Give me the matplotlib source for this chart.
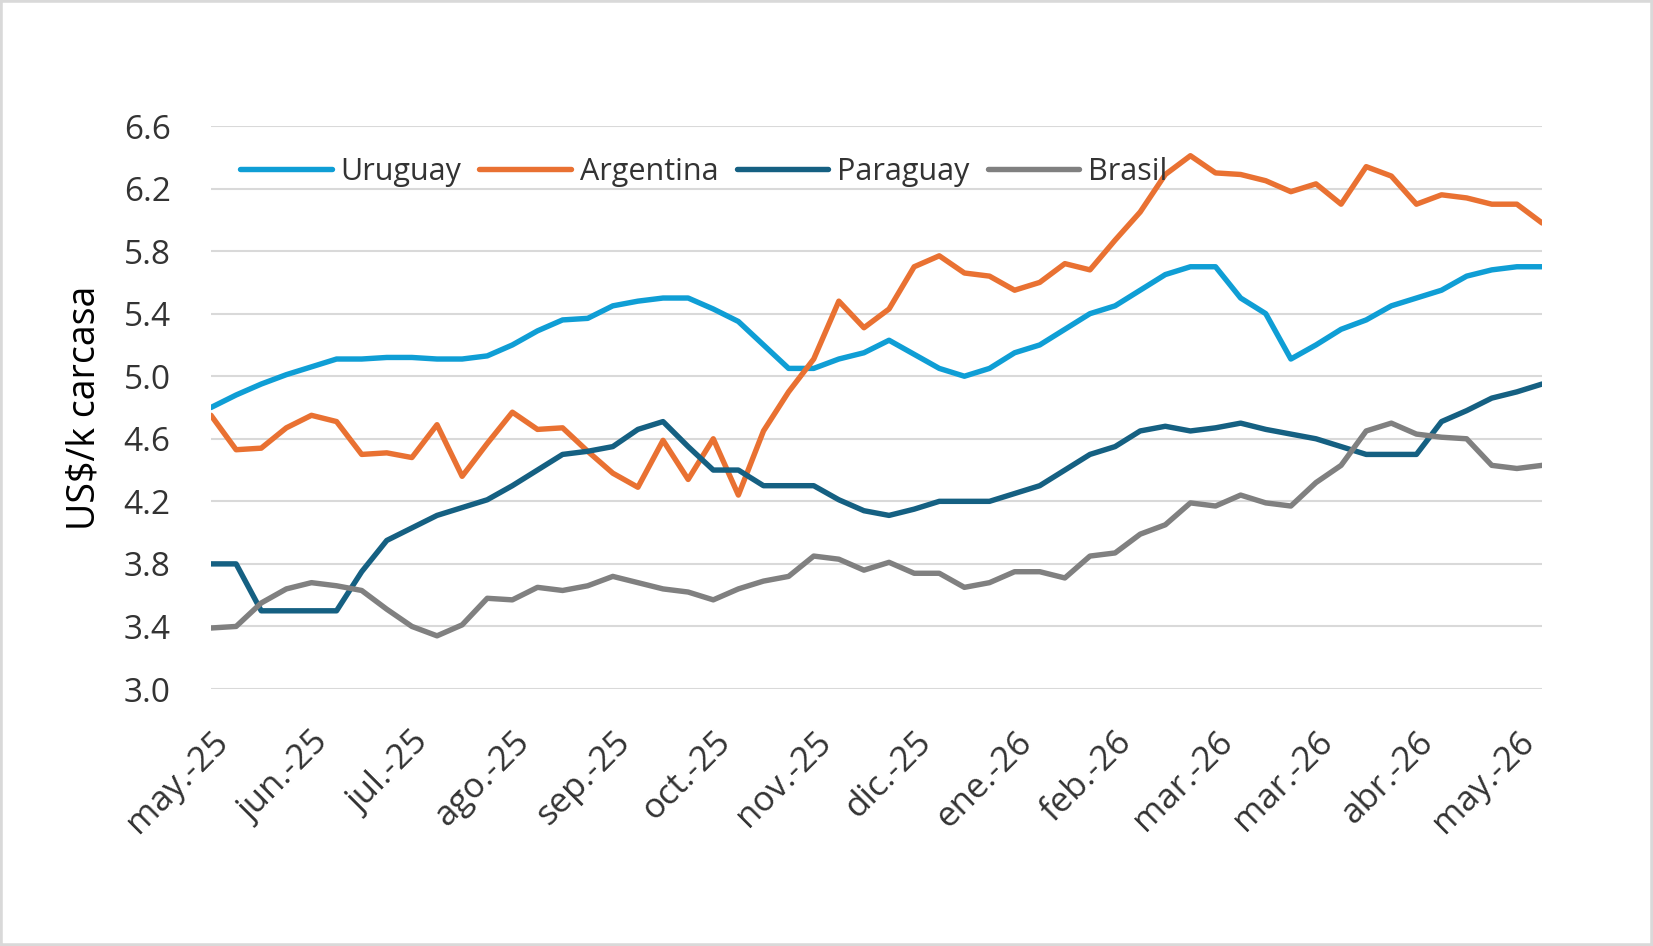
import matplotlib.pyplot as plt
from matplotlib.patches import Rectangle

MONTH_LABELS = ["may.-25", "jun.-25", "jul.-25", "ago.-25", "sep.-25", "oct.-25", "nov.-25",
                "dic.-25", "ene.-26", "feb.-26", "mar.-26", "mar.-26", "abr.-26", "may.-26"]

URUGUAY = [4.80, 4.88, 4.95, 5.01, 5.06, 5.11, 5.11, 5.12, 5.12, 5.11, 5.11, 5.13, 5.20, 5.29,
           5.36, 5.37, 5.45, 5.48, 5.50, 5.50, 5.43, 5.35, 5.20, 5.05, 5.05, 5.11, 5.15, 5.23,
           5.14, 5.05, 5.00, 5.05, 5.15, 5.20, 5.30, 5.40, 5.45, 5.55, 5.65, 5.70, 5.70, 5.50,
           5.40, 5.11, 5.20, 5.30, 5.36, 5.45, 5.50, 5.55, 5.64, 5.68, 5.70, 5.70]

ARGENTINA = [4.75, 4.53, 4.54, 4.67, 4.75, 4.71, 4.50, 4.51, 4.48, 4.69, 4.36, 4.57, 4.77, 4.66,
             4.67, 4.52, 4.38, 4.29, 4.59, 4.34, 4.60, 4.24, 4.65, 4.90, 5.11, 5.48, 5.31, 5.43,
             5.70, 5.77, 5.66, 5.64, 5.55, 5.60, 5.72, 5.68, 5.87, 6.05, 6.29, 6.41, 6.30, 6.29,
             6.25, 6.18, 6.23, 6.10, 6.34, 6.28, 6.10, 6.16, 6.14, 6.10, 6.10, 5.98]

PARAGUAY = [3.80, 3.80, 3.50, 3.50, 3.50, 3.50, 3.75, 3.95, 4.03, 4.11, 4.16, 4.21, 4.30, 4.40,
            4.50, 4.52, 4.55, 4.66, 4.71, 4.55, 4.40, 4.40, 4.30, 4.30, 4.30, 4.21, 4.14, 4.11,
            4.15, 4.20, 4.20, 4.20, 4.25, 4.30, 4.40, 4.50, 4.55, 4.65, 4.68, 4.65, 4.67, 4.70,
            4.66, 4.63, 4.60, 4.55, 4.50, 4.50, 4.50, 4.71, 4.78, 4.86, 4.90, 4.95]

BRASIL = [3.39, 3.40, 3.55, 3.64, 3.68, 3.66, 3.63, 3.51, 3.40, 3.34, 3.41, 3.58, 3.57, 3.65,
          3.63, 3.66, 3.72, 3.68, 3.64, 3.62, 3.57, 3.64, 3.69, 3.72, 3.85, 3.83, 3.76, 3.81,
          3.74, 3.74, 3.65, 3.68, 3.75, 3.75, 3.71, 3.85, 3.87, 3.99, 4.05, 4.19, 4.17, 4.24,
          4.19, 4.17, 4.32, 4.43, 4.65, 4.70, 4.63, 4.61, 4.60, 4.43, 4.41, 4.43]

SERIES = [("Uruguay", URUGUAY, "#0F9ED5"),
          ("Argentina", ARGENTINA, "#E97132"),
          ("Paraguay", PARAGUAY, "#156082"),
          ("Brasil", BRASIL, "#808080")]

YTICKS = [3.0, 3.4, 3.8, 4.2, 4.6, 5.0, 5.4, 5.8, 6.2, 6.6]

plt.rcParams["font.family"] = ["Open Sans", "DejaVu Sans"]
TEXT = "#333333"

W, H = 1653, 946
fig = plt.figure(figsize=(W / 100, H / 100), dpi=100)
fig.patches.append(Rectangle((0, 0), 1, 1, transform=fig.transFigure, fill=False,
                             edgecolor="#D9D9D9", linewidth=4))

ax = fig.add_axes([211 / W, 1 - 689 / H, (1542 - 211) / W, (689 - 126) / H])

x = list(range(len(URUGUAY)))
for name, vals, color in SERIES:
    ax.plot(x, vals, color=color, linewidth=3.9, label=name, solid_capstyle="round",
            solid_joinstyle="round", zorder=3)

ax.set_xlim(0, len(x) - 1)
ax.set_ylim(3.0, 6.6)
ax.set_yticks(YTICKS)
ax.set_yticklabels([f"{v:.1f}" for v in YTICKS])
ax.grid(axis="y", color="#D9D9D9", linewidth=1.5, zorder=0)
ax.set_axisbelow(True)
for s in ax.spines.values():
    s.set_visible(False)

ticks = list(range(0, len(x), 4))
ax.set_xticks(ticks)
ax.set_xticklabels(MONTH_LABELS, rotation=45, ha="right", rotation_mode="anchor")
ax.tick_params(axis="both", length=0, colors=TEXT)
ax.tick_params(axis="x", labelsize=25, pad=26)
ax.tick_params(axis="y", labelsize=24, pad=29)

ax.set_ylabel("US$/k carcasa", fontsize=27, color="black")
ax.yaxis.set_label_coords((103 - 211) / 1331, 0.5)

leg = ax.legend(loc="center left", bbox_to_anchor=((240 - 211) / 1331, (689 - 172) / 563),
                ncol=4, frameon=False, fontsize=22, handlelength=3.0, handletextpad=0.28,
                columnspacing=0.6, labelcolor=TEXT, borderaxespad=0, borderpad=0)

fig.savefig("out.png", dpi=100, facecolor="white")
